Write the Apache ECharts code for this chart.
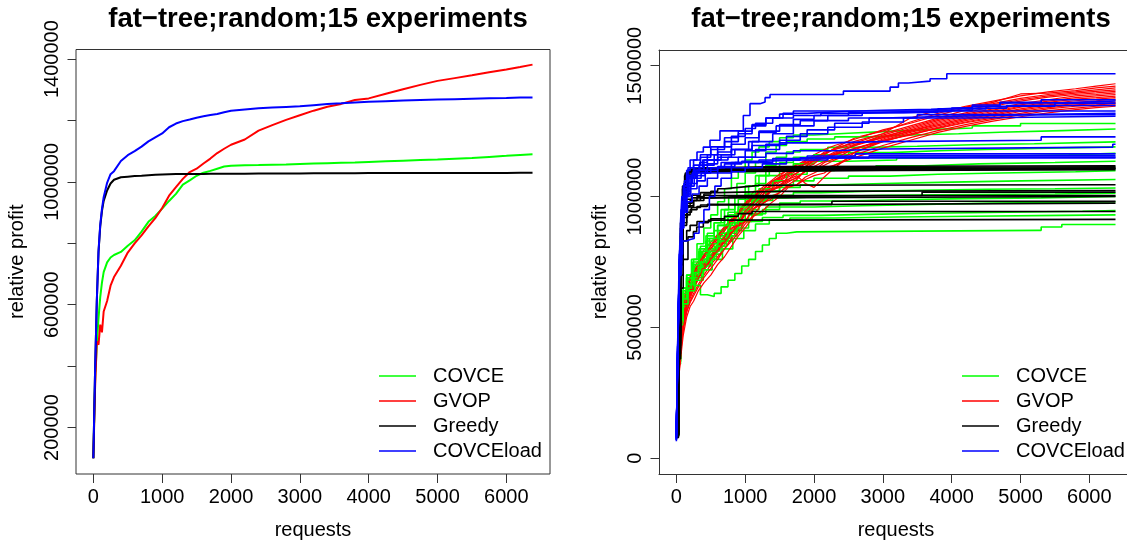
<!DOCTYPE html>
<html>
<head>
<meta charset="utf-8">
<script src="https://cdn.jsdelivr.net/npm/echarts@6/dist/echarts.min.js"></script>
<style>
html,body{margin:0;padding:0;background:#fff;}
#chart{width:1127px;height:544px;}
</style>
</head>
<body>
<div id="chart"></div>
<script>
// ---------- DATA ----------
const titleText = 'fat\u2212tree;random;15 experiments';
const methodNames = ['COVCE', 'GVOP', 'Greedy', 'COVCEload'];
const methodColors = ['#00ff00', '#ff0000', '#000000', '#0000ff'];
const xTicks = [0, 1000, 2000, 3000, 4000, 5000, 6000];
const leftYTicks = [200000, 400000, 600000, 800000, 1000000, 1200000, 1400000];
const leftYLabels = [200000, 600000, 1000000, 1400000];
const rightYTicks = [0, 500000, 1000000, 1500000];

// Left panel: mean curves
const meanX = [0,25,50,75,100,125,150,200,250,300,400,500,600,700,800,900,1000,1100,1200,1300,1400,1500,1600,1700,1800,1900,2000,2200,2400,2600,2800,3000,3200,3400,3600,3800,4000,4250,4500,4750,5000,5250,5500,5750,6000,6200,6380];
const covceMean = [100000,350000,470000,555000,625000,672000,706000,738000,754000,762000,772000,792000,810000,838000,870000,889000,913000,938000,961000,991000,1005000,1020000,1030000,1036000,1043000,1050000,1053000,1054500,1055000,1056000,1057000,1058500,1060000,1061000,1062000,1063000,1065000,1067000,1069000,1071000,1073000,1075500,1078000,1081500,1085000,1088000,1090000];
const gvopMean = [100000,330000,480000,470000,535000,510000,578000,612000,662000,690000,727000,770000,800000,826000,855000,882000,915000,955000,983000,1010000,1032000,1043000,1060000,1076000,1094000,1108000,1121000,1138000,1167000,1185000,1202000,1217000,1232000,1245000,1254000,1267000,1272000,1287000,1302000,1316000,1329000,1338000,1347000,1357000,1366000,1374000,1382000];
const greedyMean = [100000,385000,610000,770000,855000,905000,938000,972000,995000,1007000,1015000,1017000,1019000,1020000,1021500,1023000,1024000,1025000,1025500,1026000,1026000,1026000,1026000,1026200,1026300,1026400,1026500,1026700,1027000,1027200,1027400,1027500,1027800,1028000,1028300,1028500,1028700,1028800,1029000,1029000,1029100,1029200,1029300,1029300,1029400,1029500,1029500];
const covceloadMean = [100000,385000,610000,775000,860000,912000,950000,997000,1025000,1035000,1068000,1087000,1100000,1115000,1132000,1145000,1158000,1178000,1190000,1198000,1203000,1209000,1214000,1218000,1221000,1227000,1232000,1236000,1240000,1242000,1244000,1246000,1250000,1253500,1256000,1259000,1261000,1263000,1265000,1266500,1268000,1269500,1271000,1272500,1273500,1274500,1275000];

// Right panel: 15 experiments per method ([requests, profit] pairs)
const covceRuns = [
 [[0,95000],[30,420000],[60,560000],[100,640000],[150,700000],[220,760000],[300,820000],[400,880000],[500,930000],[600,980000],[700,1030000],[800,1070000],[900,1110000],[1000,1140000],[1100,1170000],[1200,1190000],[1350,1210000],[1500,1225000],[1700,1235000],[2000,1242000],[2500,1248000],[3000,1255000],[3600,1262000],[4300,1270000],[5000,1279000],[6380,1279000]],
 [[0,90000],[30,400000],[60,540000],[100,620000],[160,690000],[240,750000],[330,800000],[430,850000],[550,900000],[650,950000],[760,1000000],[880,1050000],[1000,1090000],[1150,1130000],[1300,1170000],[1450,1195000],[1600,1210000],[1900,1220000],[2300,1228000],[2800,1235000],[3400,1240000],[4100,1246000],[4700,1252000],[5600,1258000],[6380,1258000]],
 [[0,100000],[30,430000],[60,570000],[100,650000],[150,700000],[250,760000],[350,810000],[450,860000],[550,900000],[700,950000],[850,1000000],[1000,1040000],[1150,1080000],[1300,1120000],[1450,1150000],[1600,1170000],[1800,1180000],[2200,1188000],[2800,1192000],[3500,1198000],[4300,1202000],[5200,1209000],[6380,1209000]],
 [[0,85000],[30,380000],[60,520000],[100,600000],[170,670000],[260,730000],[370,790000],[480,840000],[600,890000],[750,940000],[900,990000],[1050,1040000],[1200,1080000],[1350,1110000],[1500,1130000],[1700,1150000],[2000,1160000],[2500,1168000],[3100,1175000],[3800,1180000],[4500,1185000],[5400,1190000],[6380,1190000]],
 [[0,95000],[30,410000],[60,550000],[100,630000],[150,680000],[230,740000],[330,790000],[430,830000],[550,870000],[700,920000],[850,970000],[1000,1010000],[1150,1050000],[1300,1080000],[1500,1110000],[1700,1125000],[2000,1135000],[2500,1140000],[3200,1148000],[4000,1155000],[4800,1160000],[5700,1165000],[6380,1165000]],
 [[0,90000],[30,390000],[60,530000],[100,610000],[160,670000],[250,720000],[350,760000],[450,800000],[600,850000],[750,900000],[900,950000],[1050,990000],[1200,1030000],[1400,1060000],[1600,1085000],[1900,1100000],[2300,1110000],[2900,1118000],[3600,1125000],[4400,1130000],[5500,1135000],[6380,1135000]],
 [[0,85000],[30,370000],[60,510000],[100,590000],[170,650000],[260,700000],[360,740000],[480,790000],[620,840000],[780,890000],[950,940000],[1100,980000],[1300,1020000],[1500,1045000],[1700,1060000],[2000,1070000],[2500,1078000],[3100,1085000],[3800,1090000],[4700,1095000],[5800,1099000],[6380,1099000]],
 [[0,95000],[30,400000],[60,540000],[100,620000],[160,680000],[250,730000],[360,780000],[480,820000],[620,860000],[780,900000],[940,950000],[1100,990000],[1300,1020000],[1500,1035000],[1800,1045000],[2300,1050000],[3000,1055000],[4000,1060000],[5000,1065000],[6380,1065000]],
 [[0,90000],[30,380000],[60,520000],[100,600000],[180,660000],[280,710000],[400,760000],[550,810000],[700,860000],[850,910000],[1000,950000],[1200,985000],[1400,1005000],[1700,1015000],[2100,1020000],[2700,1024000],[3500,1028000],[4500,1030000],[5500,1033000],[6380,1033000]],
 [[0,100000],[30,420000],[60,560000],[100,640000],[150,690000],[230,740000],[330,790000],[450,840000],[600,890000],[750,930000],[900,960000],[1100,985000],[1300,995000],[1600,1000000],[2200,1005000],[3000,1008000],[4200,1010000],[5500,1013000],[6380,1013000]],
 [[0,85000],[30,360000],[60,500000],[100,580000],[170,640000],[260,690000],[370,735000],[500,780000],[650,830000],[800,870000],[950,905000],[1100,935000],[1300,960000],[1500,975000],[1800,983000],[2400,988000],[3200,992000],[4200,995000],[5300,1000000],[6380,1000000]],
 [[0,90000],[30,390000],[60,530000],[100,610000],[160,665000],[250,710000],[350,750000],[470,790000],[600,830000],[750,870000],[900,905000],[1050,930000],[1250,950000],[1500,960000],[2000,965000],[2700,970000],[3600,975000],[4600,978000],[5800,980000],[6380,980000]],
 [[0,95000],[30,400000],[60,540000],[100,610000],[150,650000],[220,690000],[320,730000],[440,770000],[580,810000],[730,850000],[880,880000],[1050,905000],[1250,920000],[1550,928000],[2100,932000],[2800,936000],[3700,940000],[4800,944000],[5900,947000],[6380,947000]],
 [[0,90000],[30,370000],[60,510000],[100,590000],[170,640000],[270,680000],[390,720000],[520,760000],[670,800000],[820,840000],[980,870000],[1150,895000],[1350,910000],[1650,918000],[2300,922000],[3200,925000],[4300,928000],[5600,930000],[6380,930000]],
 [[0,95000],[30,430000],[60,560000],[100,650000],[150,690000],[250,660000],[350,625000],[450,618000],[550,630000],[650,655000],[750,680000],[850,706000],[950,735000],[1050,760000],[1150,790000],[1250,815000],[1350,840000],[1450,860000],[1600,865000],[1750,871000],[5250,871000],[5300,884000],[5600,893000],[6380,893000]]
];

const gvopX = [0,40,70,100,150,200,250,320,400,500,600,700,800,900,1000,1125,1250,1375,1500,1625,1750,1875,2000,2150,2300,2600,3000,3400,3800,4200,4600,5000,5400,5800,6100,6380];
const gvopRuns = [
 [100000,430000,540000,600000,655000,695000,725000,755000,795000,825000,855000,885000,915000,945000,975000,1020000,1025000,1055000,1075000,1110000,1120000,1140000,1150000,1160000,1185000,1225000,1250000,1285000,1318000,1345000,1365000,1385000,1400000,1412000,1422000,1431000],
 [95000,390000,500000,575000,625000,665000,700000,740000,770000,815000,845000,880000,900000,935000,975000,995000,1020000,1040000,1070000,1095000,1125000,1130000,1140000,1170000,1180000,1212000,1240000,1300000,1330000,1342000,1360000,1392000,1395000,1405000,1415000,1422000],
 [105000,410000,520000,590000,640000,690000,715000,740000,780000,800000,830000,870000,905000,930000,970000,990000,1025000,1040000,1075000,1090000,1110000,1135000,1160000,1180000,1195000,1220000,1255000,1280000,1310000,1340000,1355000,1375000,1390000,1400000,1408000,1415000],
 [90000,350000,450000,520000,585000,630000,665000,700000,740000,775000,820000,850000,890000,930000,955000,985000,1005000,1050000,1065000,1085000,1110000,1135000,1140000,1160000,1185000,1205000,1240000,1270000,1300000,1330000,1350000,1370000,1385000,1395000,1402000,1408000],
 [100000,370000,480000,545000,600000,650000,680000,720000,750000,790000,810000,845000,875000,910000,945000,975000,1005000,1040000,1060000,1080000,1100000,1115000,1135000,1150000,1170000,1195000,1235000,1265000,1295000,1320000,1345000,1365000,1380000,1390000,1396000,1402000],
 [95000,340000,450000,530000,590000,625000,655000,690000,720000,760000,800000,830000,860000,890000,935000,980000,995000,1020000,1040000,1075000,1090000,1115000,1140000,1145000,1160000,1200000,1225000,1260000,1290000,1315000,1335000,1355000,1370000,1385000,1390000,1396000],
 [100000,380000,490000,560000,615000,660000,690000,730000,765000,800000,840000,870000,905000,940000,975000,1000000,1035000,1060000,1085000,1100000,1115000,1125000,1150000,1165000,1180000,1200000,1230000,1255000,1285000,1310000,1330000,1350000,1365000,1378000,1385000,1390000],
 [90000,345000,430000,500000,570000,610000,645000,685000,720000,755000,790000,815000,860000,880000,935000,950000,985000,1020000,1040000,1060000,1070000,1100000,1115000,1135000,1160000,1180000,1220000,1250000,1280000,1305000,1325000,1345000,1360000,1372000,1378000,1384000],
 [100000,400000,510000,575000,630000,680000,705000,745000,775000,810000,850000,880000,910000,935000,965000,1000000,1025000,1055000,1075000,1085000,1105000,1125000,1140000,1150000,1165000,1195000,1225000,1250000,1275000,1300000,1320000,1342000,1355000,1366000,1372000,1378000],
 [95000,360000,470000,540000,600000,640000,675000,705000,740000,770000,810000,845000,880000,890000,945000,980000,1015000,1030000,1055000,1065000,1090000,1110000,1125000,1155000,1160000,1185000,1215000,1245000,1270000,1295000,1315000,1335000,1350000,1360000,1366000,1372000],
 [105000,370000,480000,545000,590000,635000,665000,705000,730000,770000,800000,835000,865000,900000,930000,965000,995000,1025000,1045000,1065000,1080000,1050000,1035000,1075000,1110000,1170000,1210000,1240000,1265000,1290000,1310000,1330000,1345000,1355000,1360000,1366000],
 [90000,330000,420000,490000,560000,600000,630000,665000,700000,740000,770000,800000,840000,870000,905000,955000,970000,1000000,1015000,1045000,1065000,1100000,1100000,1120000,1140000,1170000,1215000,1235000,1262000,1285000,1305000,1325000,1340000,1350000,1355000,1360000],
 [100000,355000,460000,520000,580000,620000,650000,690000,725000,760000,795000,825000,860000,890000,905000,955000,985000,1025000,1035000,1055000,1075000,1095000,1100000,1130000,1145000,1185000,1210000,1238000,1260000,1282000,1300000,1318000,1335000,1345000,1350000,1355000],
 [95000,335000,435000,500000,560000,595000,620000,655000,690000,725000,760000,800000,830000,860000,895000,930000,975000,990000,1015000,1040000,1045000,1075000,1090000,1110000,1120000,1160000,1195000,1225000,1252000,1275000,1295000,1312000,1328000,1338000,1345000,1350000],
 [90000,320000,400000,470000,540000,580000,600000,640000,670000,700000,740000,770000,810000,850000,880000,925000,945000,975000,1000000,1035000,1045000,1065000,1080000,1090000,1120000,1150000,1185000,1215000,1245000,1268000,1288000,1305000,1320000,1332000,1340000,1345000]
];

const greedyRuns = [
 [[0,90000],[30,500000],[60,850000],[90,1000000],[120,1080000],[160,1100000],[250,1110000],[500,1115000],[1500,1118000],[6380,1118000]],
 [[0,100000],[30,550000],[60,900000],[90,1040000],[130,1090000],[200,1105000],[400,1110000],[1200,1114000],[6380,1114000]],
 [[0,85000],[25,450000],[55,820000],[85,980000],[120,1060000],[170,1095000],[300,1105000],[800,1110000],[6380,1110000]],
 [[0,95000],[30,520000],[60,880000],[90,1030000],[130,1085000],[220,1100000],[600,1105000],[2000,1108000],[6380,1108000]],
 [[0,90000],[30,480000],[60,860000],[95,1010000],[140,1075000],[250,1095000],[500,1100000],[1000,1106000],[6380,1106000]],
 [[0,100000],[30,500000],[65,870000],[100,1020000],[150,1080000],[280,1095000],[700,1100000],[3000,1103000],[6380,1103000]],
 [[0,90000],[30,450000],[60,780000],[100,930000],[150,960000],[200,985000],[300,1000000],[400,1010000],[500,1020000],[600,1030000],[700,1035000],[900,1040000],[1100,1043000],[1200,1045000],[6380,1045000]],
 [[0,95000],[30,470000],[60,800000],[100,950000],[150,990000],[220,1005000],[350,1015000],[600,1020000],[1500,1023000],[6380,1023000]],
 [[0,85000],[30,430000],[60,760000],[100,920000],[160,960000],[250,985000],[350,995000],[500,1000000],[900,1004000],[3570,1017000],[6380,1017000]],
 [[0,90000],[30,460000],[60,790000],[100,940000],[150,975000],[230,995000],[400,1004000],[6380,1004000]],
 [[0,100000],[30,480000],[60,810000],[100,930000],[160,965000],[250,985000],[400,995000],[700,1000000],[6380,1000000]],
 [[0,85000],[30,420000],[60,740000],[100,890000],[150,930000],[200,950000],[300,962000],[450,970000],[2260,982000],[6380,982000]],
 [[0,90000],[30,440000],[60,770000],[100,900000],[150,940000],[220,958000],[350,968000],[600,975000],[6380,977000]],
 [[0,80000],[30,400000],[60,700000],[100,830000],[150,870000],[200,890000],[300,905000],[500,915000],[700,925000],[900,935000],[1100,943000],[6380,943000]],
 [[0,80000],[30,380000],[60,650000],[100,760000],[169,846000],[247,866000],[296,884000],[392,900000],[465,910000],[700,913000],[6380,913000]]
];

const covceloadRuns = [
 [[0,65000],[20,400000],[40,700000],[60,900000],[80,1000000],[110,1050000],[150,1100000],[200,1140000],[300,1170000],[392,1189000],[489,1215000],[634,1251000],[973,1310000],[1070,1355000],[1216,1361000],[1289,1378000],[1361,1390000],[2427,1403000],[3105,1418000],[3226,1434000],[3371,1441000],[3686,1450000],[3929,1469000],[6380,1469000]],
 [[0,80000],[20,450000],[40,750000],[70,950000],[100,1040000],[150,1080000],[250,1120000],[350,1150000],[500,1180000],[700,1210000],[900,1240000],[1100,1270000],[1300,1300000],[1550,1318000],[1900,1325000],[2400,1330000],[3000,1333000],[3700,1340000],[4300,1350000],[4700,1360000],[5300,1370000],[6380,1370000]],
 [[0,90000],[25,500000],[50,800000],[80,960000],[120,1030000],[180,1070000],[280,1100000],[400,1140000],[600,1170000],[800,1200000],[1000,1225000],[1200,1245000],[1450,1270000],[1700,1295000],[2000,1310000],[2500,1320000],[3000,1322000],[3800,1335000],[4500,1345000],[5500,1357000],[6380,1357000]],
 [[0,70000],[20,420000],[45,760000],[75,950000],[110,1000000],[160,1050000],[230,1090000],[330,1120000],[450,1140000],[650,1160000],[850,1180000],[1050,1210000],[1200,1250000],[1500,1275000],[1800,1290000],[2200,1310000],[2700,1320000],[3300,1325000],[4000,1338000],[4800,1348000],[6380,1348000]],
 [[0,85000],[25,480000],[50,800000],[80,980000],[120,1060000],[170,1110000],[250,1140000],[350,1160000],[500,1190000],[700,1225000],[900,1250000],[1100,1275000],[1300,1300000],[1500,1315000],[1700,1327000],[6380,1327000]],
 [[0,75000],[20,440000],[45,780000],[80,940000],[130,1020000],[200,1070000],[300,1100000],[450,1125000],[600,1150000],[800,1180000],[1100,1210000],[1400,1240000],[1700,1270000],[2000,1290000],[2500,1300000],[3000,1305000],[3700,1312000],[5000,1318000],[6380,1318000]],
 [[0,90000],[25,500000],[50,820000],[80,980000],[110,1040000],[160,1080000],[250,1100000],[400,1120000],[550,1140000],[750,1150000],[1000,1175000],[1300,1200000],[1600,1230000],[1900,1255000],[2300,1280000],[2800,1300000],[3500,1313000],[6380,1313000]],
 [[0,80000],[20,430000],[45,730000],[75,920000],[110,1000000],[160,1040000],[220,1070000],[300,1090000],[450,1110000],[650,1130000],[900,1150000],[1150,1180000],[1500,1215000],[1800,1240000],[2200,1265000],[2700,1285000],[3300,1300000],[4200,1307000],[6380,1307000]],
 [[0,85000],[25,470000],[50,790000],[80,960000],[120,1040000],[180,1080000],[260,1110000],[380,1140000],[550,1160000],[800,1180000],[1100,1195000],[1500,1205000],[2200,1210000],[3000,1215000],[5300,1228000],[6380,1228000]],
 [[0,70000],[20,400000],[40,700000],[70,880000],[100,950000],[150,1000000],[200,1030000],[300,1060000],[420,1090000],[600,1110000],[800,1130000],[1000,1150000],[1300,1165000],[1700,1175000],[2300,1182000],[3000,1189000],[6340,1200000],[6380,1200000]],
 [[0,80000],[20,420000],[45,720000],[75,880000],[110,940000],[160,980000],[230,1010000],[330,1040000],[450,1070000],[600,1090000],[800,1110000],[1050,1130000],[1400,1145000],[1900,1155000],[2600,1163000],[6380,1163000]],
 [[0,80000],[20,380000],[40,640000],[60,780000],[90,830000],[150,836000],[200,840000],[260,860000],[330,900000],[400,950000],[480,1000000],[560,1040000],[650,1070000],[800,1095000],[1000,1110000],[1250,1125000],[1600,1140000],[2200,1151000],[6380,1151000]],
 [[0,90000],[25,470000],[50,790000],[80,940000],[120,1000000],[180,1040000],[260,1070000],[360,1090000],[500,1110000],[700,1125000],[950,1135000],[1300,1140000],[1800,1148000],[6380,1148000]],
 [[0,75000],[20,430000],[45,750000],[75,900000],[110,960000],[150,1010000],[210,1050000],[300,1080000],[420,1100000],[600,1115000],[850,1130000],[1200,1140000],[1800,1148000],[2800,1156000],[6380,1156000]],
 [[0,85000],[25,480000],[50,800000],[80,970000],[120,1030000],[170,1070000],[250,1100000],[340,1130000],[450,1160000],[600,1190000],[800,1230000],[1000,1260000],[1150,1280000],[1400,1300000],[1700,1310000],[2100,1318000],[2600,1325000],[3400,1330000],[4300,1345000],[4700,1358000],[5600,1365000],[6380,1365000]]
];

// ---------- CHART ----------
const FONT = '"Liberation Sans", Arial, Helvetica, sans-serif';
const chart = echarts.init(document.getElementById('chart'), null, {renderer: 'canvas'});

const grids = [
  {left: 76, top: 49.5, width: 474, height: 424.5, show: true},
  {left: 659, top: 50, width: 474, height: 424, show: false}
];
const yRanges = [[48800, 1431200], [-60000, 1560000]];
const yTickSets = [leftYTicks, rightYTicks];
const yLabelSets = [leftYLabels, rightYTicks];
const plain = v => String(Math.round(v));

function xAxisFor(i) {
  return {
    type: 'value', gridIndex: i, min: -252, max: 6634, position: 'bottom',
    name: 'requests', nameLocation: 'middle', nameGap: 46,
    nameTextStyle: {fontSize: 20, fontFamily: FONT, color: '#000'},
    axisLine: {show: i === 1, onZero: false, lineStyle: {color: '#333', width: 1}},
    axisTick: {show: true, inside: false, length: 9, customValues: xTicks, lineStyle: {color: '#333', width: 1}},
    axisLabel: {show: true, customValues: xTicks, formatter: plain, margin: 13, fontSize: 20, fontFamily: FONT, color: '#000'},
    splitLine: {show: false}
  };
}
function yAxisFor(i) {
  return {
    type: 'value', gridIndex: i, min: yRanges[i][0], max: yRanges[i][1], position: 'left',
    name: 'relative profit', nameLocation: 'middle', nameGap: 49, nameRotate: 90,
    nameTextStyle: {fontSize: 20, fontFamily: FONT, color: '#000'},
    axisLine: {show: i === 1, onZero: false, lineStyle: {color: '#333', width: 1}},
    axisTick: {show: true, inside: false, length: 8.5, customValues: yTickSets[i], lineStyle: {color: '#333', width: 1}},
    axisLabel: {show: true, customValues: yLabelSets[i], formatter: plain, rotate: 90, margin: 14, fontSize: 20, fontFamily: FONT, color: '#000'},
    splitLine: {show: false}
  };
}
// top border line of the right panel (its right side lies outside the page)
const topBorderAxis = {
  type: 'value', gridIndex: 1, min: -252, max: 6634, position: 'top',
  axisLine: {show: true, onZero: false, lineStyle: {color: '#333', width: 1}},
  axisTick: {show: false}, axisLabel: {show: false}, splitLine: {show: false}
};

function lineSeries(name, color, data, gi, width, step, z) {
  return {
    type: 'line', name: name, xAxisIndex: gi, yAxisIndex: gi,
    data: data, symbol: 'none', showSymbol: false, step: step,
    lineStyle: {color: color, width: width}, itemStyle: {color: color},
    silent: true, animation: false, z: z, clip: true
  };
}

const series = [];
const means = [covceMean, gvopMean, greedyMean, covceloadMean];
means.forEach((ys, m) => {
  series.push(lineSeries(methodNames[m], methodColors[m], meanX.map((x, k) => [x, ys[k]]), 0, 2, false, 2 + m));
});
for (let i = 0; i < 15; i++) {
  series.push(lineSeries('COVCE', methodColors[0], covceRuns[i], 1, 1.6, 'end', 2));
  series.push(lineSeries('GVOP', methodColors[1], gvopX.map((x, k) => [x, gvopRuns[i][k]]), 1, 1.2, false, 2));
  series.push(lineSeries('Greedy', methodColors[2], greedyRuns[i], 1, 1.6, 'end', 3));
  series.push(lineSeries('COVCEload', methodColors[3], covceloadRuns[i], 1, 1.6, 'end', 4));
}

function legendFor(left) {
  return {
    show: true, orient: 'vertical', left: left, top: 361, selectedMode: false,
    data: methodNames.map((n, m) => ({name: n, icon: 'rect', itemStyle: {color: methodColors[m]}})),
    itemWidth: 37, itemHeight: 1.3, itemGap: 5,
    textStyle: {fontSize: 20, fontFamily: FONT, color: '#000', lineHeight: 20, padding: [0, 0, 0, 12]}
  };
}

chart.setOption({
  animation: false,
  backgroundColor: '#fff',
  title: [
    {text: titleText, left: 313, top: 0, textAlign: 'center', textStyle: {fontSize: 27.5, fontWeight: 'bold', fontFamily: FONT, color: '#000'}},
    {text: titleText, left: 896, top: 0, textAlign: 'center', textStyle: {fontSize: 27.5, fontWeight: 'bold', fontFamily: FONT, color: '#000'}}
  ],
  grid: grids.map(g => Object.assign({borderColor: '#333', borderWidth: 1, backgroundColor: 'transparent', containLabel: false, outerBoundsMode: 'none'}, g)),
  xAxis: [xAxisFor(0), xAxisFor(1), topBorderAxis],
  yAxis: [yAxisFor(0), yAxisFor(1)],
  legend: [legendFor(374), legendFor(957)],
  series: series
});
</script>
</body>
</html>
